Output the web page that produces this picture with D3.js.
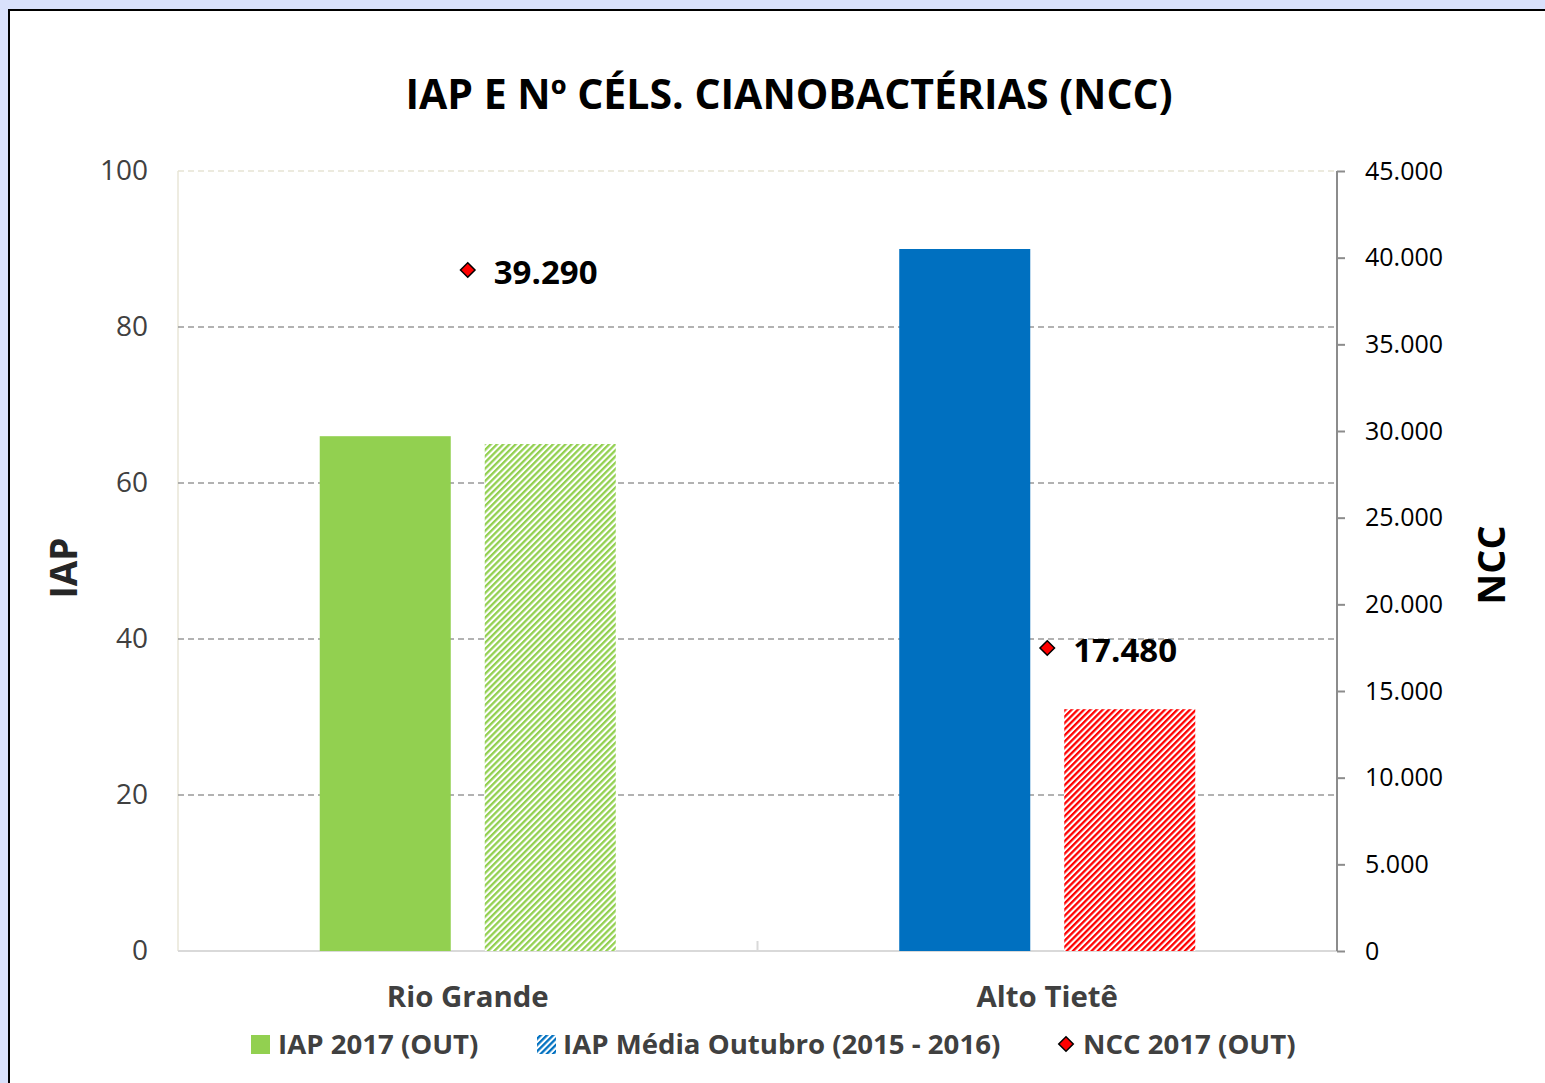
<!DOCTYPE html>
<html>
<head>
<meta charset="utf-8">
<script src="https://d3js.org/d3.v7.min.js"></script>
<style>
body { margin: 0; background: #d9e1fb; }
svg { display: block; }
text { font-family: "Open Sans", "Noto Sans", sans-serif; }
</style>
</head>
<body>
<svg id="chart" width="1545" height="1083"></svg>
<script>
// data
const categories = ["Rio Grande", "Alto Tietê"];
const seriesNames = ["IAP 2017 (OUT)", "IAP Média Outubro (2015 - 2016)", "NCC 2017 (OUT)"];
const iap2017 = [66, 90];
const iapMedia = [65, 31];
const ncc2017 = [39290, 17480];
const leftTicks = [0, 20, 40, 60, 80, 100];
const rightTicks = [0, 5000, 10000, 15000, 20000, 25000, 30000, 35000, 40000, 45000];

const svg = d3.select("#chart");
const fmt = d => d3.format(",")(d).replace(/,/g, ".");

// outer frame
svg.append("rect").attr("x", 9).attr("y", 10).attr("width", 1560).attr("height", 1100)
   .attr("fill", "#fff").attr("stroke", "#000").attr("stroke-width", 2);

const defs = svg.append("defs");
function hatch(id, color) {
  const p = defs.append("pattern").attr("id", id).attr("patternUnits", "userSpaceOnUse")
     .attr("width", 4.4).attr("height", 4.4).attr("patternTransform", "rotate(45)");
  p.append("rect").attr("width", 4.4).attr("height", 4.4).attr("fill", "#fff");
  p.append("rect").attr("width", 2.3).attr("height", 4.4).attr("fill", color);
}
hatch("hGreen", "#92d050");
hatch("hRed", "#ff0000");
hatch("hBlue", "#0070c0");

const m = {left: 178, right: 1337, top: 171, bottom: 951};

const x0 = d3.scaleBand().domain(categories).range([m.left, m.right]);
const x1 = d3.scaleBand().domain([0, 1]).range([0, x0.bandwidth()]).paddingInner(0.206).paddingOuter(0.859);
const yL = d3.scaleLinear().domain([0, 100]).range([m.bottom, m.top]);
const yR = d3.scaleLinear().domain([0, 45000]).range([m.bottom, m.top]);

// title
svg.append("text").attr("x", 789).attr("y", 109).attr("text-anchor", "middle")
   .attr("font-size", 41).attr("font-weight", "bold").attr("fill", "#000")
   .text("IAP E Nº CÉLS. CIANOBACTÉRIAS (NCC)");

// plot border (light) on left
svg.append("line").attr("x1", m.left).attr("x2", m.left).attr("y1", m.top).attr("y2", m.bottom)
   .attr("stroke", "#eeece1").attr("stroke-width", 2);

// gridlines
svg.append("g").selectAll("line").data(leftTicks.filter(d => d > 0)).join("line")
   .attr("x1", m.left).attr("x2", m.right)
   .attr("y1", d => yL(d)).attr("y2", d => yL(d))
   .attr("stroke", d => d === 100 ? "#e6e3d3" : "#999")
   .attr("stroke-width", 1.5).attr("stroke-dasharray", "6,4");

// left axis labels
const axL = svg.append("g").attr("transform", `translate(${m.left},0)`)
   .call(d3.axisLeft(yL).tickValues(leftTicks).tickSize(0).tickPadding(30));
axL.select(".domain").remove();
axL.selectAll("text").attr("font-size", 28).attr("fill", "#404040")
   .attr("font-family", "'Open Sans', sans-serif");

// bottom axis line
svg.append("line").attr("x1", m.left).attr("x2", m.right).attr("y1", m.bottom).attr("y2", m.bottom)
   .attr("stroke", "#d9d9d9").attr("stroke-width", 2);
svg.append("line").attr("x1", x0(categories[1])).attr("x2", x0(categories[1]))
   .attr("y1", m.bottom - 10).attr("y2", m.bottom).attr("stroke", "#d9d9d9").attr("stroke-width", 2);

// right axis
const axR = svg.append("g").attr("transform", `translate(${m.right},0)`)
   .call(d3.axisRight(yR).tickValues(rightTicks).tickSize(8).tickPadding(20).tickFormat(fmt));
axR.select(".domain").attr("stroke", "#8c8c8c").attr("stroke-width", 2).attr("d", `M0,${m.top}V${m.bottom}`);
axR.selectAll(".tick line").attr("stroke", "#8c8c8c").attr("stroke-width", 2);
axR.selectAll("text").attr("font-size", 25).attr("fill", "#000")
   .attr("font-family", "'Open Sans', sans-serif");

// bars
const fill1 = ["#92d050", "#0070c0"];
const fill2 = ["url(#hGreen)", "url(#hRed)"];
categories.forEach((c, i) => {
  svg.append("rect").attr("x", x0(c) + x1(0)).attr("width", x1.bandwidth())
     .attr("y", yL(iap2017[i])).attr("height", yL(0) - yL(iap2017[i])).attr("fill", fill1[i]);
  svg.append("rect").attr("x", x0(c) + x1(1)).attr("width", x1.bandwidth())
     .attr("y", yL(iapMedia[i])).attr("height", yL(0) - yL(iapMedia[i])).attr("fill", fill2[i]);
});

// NCC markers + labels
const diamond = d3.symbol().type(d3.symbolDiamond2).size(135);
svg.append("g").selectAll("path").data(ncc2017).join("path")
   .attr("d", diamond)
   .attr("transform", (d, i) => `translate(${x0(categories[i]) + x0.bandwidth() / 2},${yR(d)})`)
   .attr("fill", "#ff0000").attr("stroke", "#000").attr("stroke-width", 1.5);
svg.append("g").selectAll("text").data(ncc2017).join("text")
   .attr("x", (d, i) => x0(categories[i]) + x0.bandwidth() / 2 + 26)
   .attr("y", d => yR(d) + 14)
   .attr("font-size", 33).attr("font-weight", "bold").attr("fill", "#000")
   .text(fmt);

// category labels
svg.append("g").selectAll("text").data(categories).join("text")
   .attr("x", d => x0(d) + x0.bandwidth() / 2).attr("y", 1007)
   .attr("text-anchor", "middle").attr("font-size", 29.4).attr("font-weight", "bold")
   .attr("fill", "#404040").text(d => d);

// axis titles
svg.append("text").attr("transform", "translate(77,568) rotate(-90)").attr("text-anchor", "middle")
   .attr("font-size", 37).attr("font-weight", "bold").attr("fill", "#262626").text("IAP");
svg.append("text").attr("transform", "translate(1505,565) rotate(-90)").attr("text-anchor", "middle")
   .attr("font-size", 38).attr("font-weight", "bold").attr("fill", "#000").text("NCC");

// legend
const lg = svg.append("g").attr("font-size", 27.6).attr("font-weight", "bold").attr("fill", "#404040");
lg.append("rect").attr("x", 251).attr("y", 1035).attr("width", 19).attr("height", 19).attr("fill", "#92d050");
lg.append("text").attr("x", 278).attr("y", 1054).text(seriesNames[0]);
lg.append("rect").attr("x", 537).attr("y", 1035).attr("width", 19).attr("height", 19).attr("fill", "url(#hBlue)");
lg.append("text").attr("x", 563).attr("y", 1054).text(seriesNames[1]);
lg.append("path").attr("d", diamond)
  .attr("transform", "translate(1066,1044)").attr("fill", "#ff0000").attr("stroke", "#000").attr("stroke-width", 1.5);
lg.append("text").attr("x", 1083).attr("y", 1054).text(seriesNames[2]);
</script>
</body>
</html>
